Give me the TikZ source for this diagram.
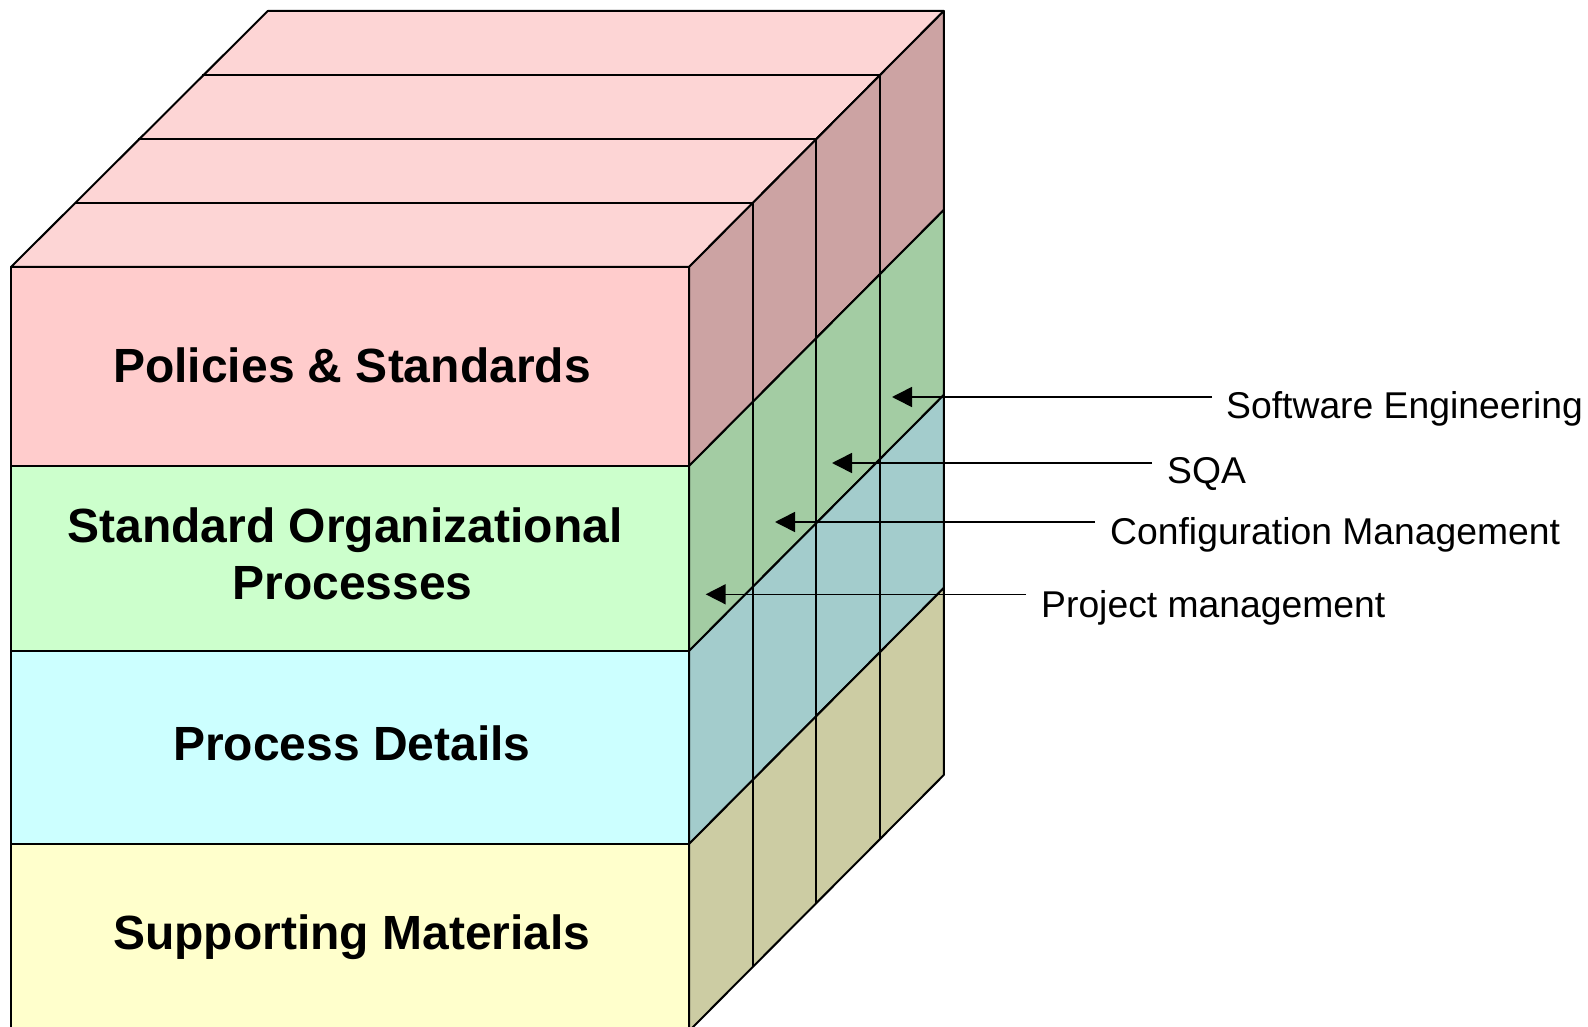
\documentclass[tikz,border=0pt]{standalone}
\usepackage{fontspec}
\setmainfont{Liberation Sans}
\usetikzlibrary{arrows.meta}
\definecolor{polF}{HTML}{FFCCCC}
\definecolor{polT}{HTML}{FDD5D5}
\definecolor{polS}{HTML}{CCA3A3}
\definecolor{stdF}{HTML}{CCFFCC}
\definecolor{stdS}{HTML}{A3CCA3}
\definecolor{prcF}{HTML}{CCFFFF}
\definecolor{prcS}{HTML}{A3CCCC}
\definecolor{supF}{HTML}{FFFFCC}
\definecolor{supS}{HTML}{CCCCA3}
\tikzset{
  edge/.style={draw=black, line width=2pt, line join=round},
  layertext/.style={font=\fontsize{48}{57}\bfseries\selectfont, inner sep=0pt, align=center},
  sidelabel/.style={font=\fontsize{37.3}{44}\selectfont, inner sep=0pt, anchor=base west},
  pointer/.style={draw=black, line width=1.6pt, -{Triangle[length=20pt,width=20pt]}}
}
\begin{document}
\begin{tikzpicture}[x=1pt,y=-1pt]
\useasboundingbox (0,0) rectangle (1588,1027);
\clip (0,0) rectangle (1588,1027);
\def\xl{11}\def\xr{689}\def\dx{63.7}\def\dy{64}
% front faces
\filldraw[edge, fill=polF] (\xl,267) rectangle (\xr,466);
\filldraw[edge, fill=stdF] (\xl,466) rectangle (\xr,651);
\filldraw[edge, fill=prcF] (\xl,651) rectangle (\xr,844);
\filldraw[edge, fill=supF] (\xl,844) rectangle (\xr,1031);
% top face
\filldraw[edge, fill=polT] (\xl,267) -- (\xr,267) -- (\xr+4*\dx,267-4*\dy) -- (\xl+4*\dx+2,267-4*\dy) -- cycle;
\foreach \k in {1,2,3} {
  \draw[edge] (\xl+\k*\dx,267-\k*\dy) -- (\xr+\k*\dx,267-\k*\dy);
}
% right faces
\filldraw[edge, fill=polS] (\xr,267) -- (\xr+4*\dx,267-4*\dy) -- (\xr+4*\dx,466-4*\dy) -- (\xr,466) -- cycle;
\filldraw[edge, fill=stdS] (\xr,466) -- (\xr+4*\dx,466-4*\dy) -- (\xr+4*\dx,651-4*\dy) -- (\xr,651) -- cycle;
\filldraw[edge, fill=prcS] (\xr,651) -- (\xr+4*\dx,651-4*\dy) -- (\xr+4*\dx,844-4*\dy) -- (\xr,844) -- cycle;
\filldraw[edge, fill=supS] (\xr,844) -- (\xr+4*\dx,844-4*\dy) -- (\xr+4*\dx,1031-4*\dy) -- (\xr,1031) -- cycle;
\foreach \k in {1,2,3} {
  \draw[edge] (\xr+\k*\dx,267-\k*\dy) -- (\xr+\k*\dx,1031-\k*\dy);
}
% layer labels
\node[layertext, anchor=base] (pol) at (352,382.6) {Policies \& Standards};
\node[layertext, anchor=base] (std1) at (345,542.6) {Standard Organizational};
\node[layertext, anchor=base] (std2) at (352.5,599.4) {Processes};
\node[layertext, anchor=base] (prc) at (352,760.4) {Process Details};
\node[layertext, anchor=base] (sup) at (352,949) {Supporting Materials};
% side labels and pointers
\node[sidelabel] (se) at (1226,418.3) {Software Engineering};
\node[sidelabel] (sqa) at (1167,483.3) {SQA};
\node[sidelabel] (cm) at (1110,544) {Configuration Management};
\node[sidelabel] (pm) at (1041,617) {Project management};
\coordinate (seA) at (1212,397);   \coordinate (seT) at (892,397);
\coordinate (sqaA) at (1152,463);  \coordinate (sqaT) at (832,463);
\coordinate (cmA) at (1095,522);   \coordinate (cmT) at (775,522);
\coordinate (pmA) at (1026,594.3); \coordinate (pmT) at (705.7,594.3);
\draw[pointer] (seA) -- (seT);
\draw[pointer] (sqaA) -- (sqaT);
\draw[pointer] (cmA) -- (cmT);
\draw[pointer] (pmA) -- (pmT);
\end{tikzpicture}
\end{document}
